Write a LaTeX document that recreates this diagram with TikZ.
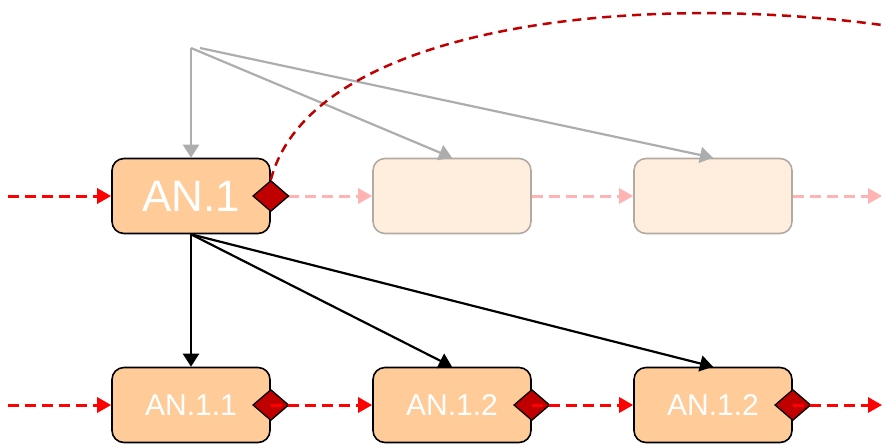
\documentclass[tikz,border=0pt]{standalone}
\usepackage{fontspec}
\setmainfont{Liberation Sans}
\usepackage{tikz}
\usetikzlibrary{arrows.meta, positioning, calc, shapes.geometric}
\definecolor{Peach}{HTML}{FFCC99}
\definecolor{PalePeach}{HTML}{FFEEDD}
\definecolor{FadeGray}{HTML}{B3AAA2}
\definecolor{GateRed}{HTML}{C00000}
\definecolor{FlowPink}{HTML}{FFB3B3}
\definecolor{LinkGray}{HTML}{ADADAD}

\begin{document}
\begin{tikzpicture}[x=1pt, y=-1pt,
    box/.style={draw, line width=1.6pt, rounded corners=12pt, fill=Peach,
        minimum width=158pt, minimum height=75pt, text=white, inner sep=0pt},
    ghost/.style={box, draw=FadeGray, fill=PalePeach},
    gate/.style={diamond, draw, line width=1.3pt, fill=GateRed, inner sep=0pt,
        minimum width=36pt, minimum height=31pt},
    flow/.style={red, dashed, dash pattern=on 11pt off 6pt, line width=3pt,
        -{Triangle[length=14pt, width=15pt]}},
    faded/.style={flow, draw=FlowPink, -{Triangle[length=14pt, width=15pt, fill=FlowPink]}},
    link/.style={line width=2.2pt, -{Triangle[length=13pt, width=16pt]}}]
        \useasboundingbox (0,0) rectangle (882,445);

        % Draw top row
        \node[box, font=\fontsize{44}{48}\selectfont] (an1) at (191,196) {AN.1};
        \node[ghost] (top2) at (452,196) {};
        \node[ghost] (top3) at (713,196) {};
        \coordinate (inTop) at (8,196);
        \coordinate (outTop) at (882,196);

        % Draw bottom row
        \node[box, font=\fontsize{30}{34}\selectfont] (an11) at (191,405) {AN.1.1};
        \node[box, font=\fontsize{30}{34}\selectfont] (an12) at (452,405) {AN.1.2};
        \node[box, font=\fontsize{30}{34}\selectfont] (an13) at (713,405) {AN.1.2};
        \coordinate (inBot) at (8,405);
        \coordinate (outBot) at (882,405);

        % Faded flow on top row
        \draw[faded] (an1.east) -- (top2);
        \draw[faded] (top2) -- (top3);
        \draw[faded] (top3) -- (outTop);
        \draw[flow] (inTop) -- (an1);
        \node[gate] (g1) at (an1.east) {};

        % Gates and flow on bottom row
        \node[gate] (g11) at (an11.east) {};
        \node[gate] (g12) at (an12.east) {};
        \node[gate] (g13) at (an13.east) {};
        \draw[flow] (inBot) -- (an11);
        \draw[flow] (g11.center) -- (an12);
        \draw[flow] (g12.center) -- (an13);
        \draw[flow] (g13.center) -- (outBot);

        % Gray links from above
        \coordinate (hub) at (191,48);
        \coordinate (hubB) at (200,48);
        \draw[link, LinkGray] (hub) -- (an1.north);
        \draw[link, LinkGray] (hub) -- (top2.north);
        \draw[link, LinkGray] (hubB) -- (top3.north);

        % Black links down to children
        \draw[link] (an1.south) -- (an11.north);
        \draw[link] (an1.south) -- (an12.north);
        \draw[link] (an1.south) -- (an13.north);

        % Dashed curve leaving the gate
        \coordinate (farEnd) at (882,25);
        \draw[GateRed, dashed, dash pattern=on 9pt off 6pt, line width=2.5pt]
            (g1.north) .. controls (310,30) and (620,-10) .. (farEnd);
    \end{tikzpicture}
\end{document}
